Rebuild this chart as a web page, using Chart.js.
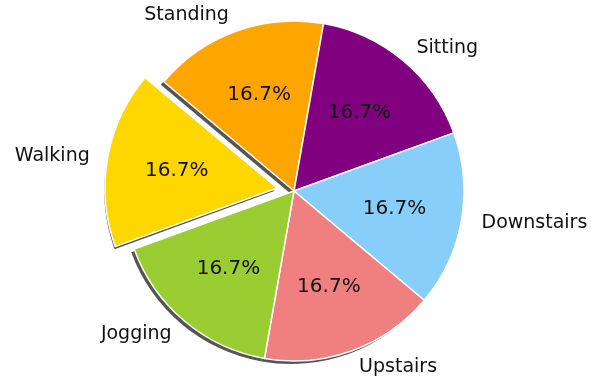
<!DOCTYPE html>
<html>
<head>
<meta charset="utf-8">
<title>Activity distribution</title>
<script src="https://cdn.jsdelivr.net/npm/chart.js@4/dist/chart.umd.min.js"></script>
<style>
  body { margin: 0; background: #fff; }
  canvas { display: block; }
</style>
</head>
<body>
<canvas id="activityPie" width="591" height="380"></canvas>
<script>
// activities, listed clockwise starting from the upper-left wedge
const activities = ['Standing', 'Sitting', 'Downstairs', 'Upstairs', 'Jogging', 'Walking'];
const counts = [1, 1, 1, 1, 1, 1];
const colors = ['#FFA500', '#800080', '#87CEFA', '#F08080', '#9ACD32', '#FFD700'];
const explode = [0, 0, 0, 0, 0, 0.1];

const RADIUS = 170;
// label ring sits a little wider than tall
const LABEL_DIST_X = 1.12;
const LABEL_DIST_Y = 1.1;
const PCT_DIST = 0.6;
const LABEL_FONT = '19px "DejaVu Sans"';
const PCT_FONT = '20px "DejaVu Sans"';

// a wedge's outward push in pixels (Chart.js moves an arc by offset / 4)
const pushOf = arc => (arc.options.offset || 0) / 4;

const wedgeShadow = {
  id: 'wedgeShadow',
  beforeDatasetsDraw(chart) {
    const ctx = chart.ctx;
    ctx.save();
    ctx.fillStyle = 'rgba(55,55,55,0.85)';
    chart.getDatasetMeta(0).data.forEach(arc => {
      const mid = (arc.startAngle + arc.endAngle) / 2;
      const cx = arc.x + Math.cos(mid) * pushOf(arc) - 3;
      const cy = arc.y + Math.sin(mid) * pushOf(arc) + 3;
      ctx.beginPath();
      ctx.moveTo(cx, cy);
      ctx.arc(cx, cy, arc.outerRadius, arc.startAngle, arc.endAngle);
      ctx.closePath();
      ctx.fill();
    });
    ctx.restore();
  }
};

const wedgeLabels = {
  id: 'wedgeLabels',
  afterDatasetsDraw(chart) {
    const ctx = chart.ctx;
    const total = counts.reduce((a, b) => a + b, 0);
    ctx.save();
    ctx.fillStyle = '#111';
    ctx.textBaseline = 'middle';
    chart.getDatasetMeta(0).data.forEach((arc, i) => {
      const mid = (arc.startAngle + arc.endAngle) / 2;
      const cos = Math.cos(mid), sin = Math.sin(mid);
      const cx = arc.x + cos * pushOf(arc);
      const cy = arc.y + sin * pushOf(arc);
      const r = arc.outerRadius;

      ctx.font = LABEL_FONT;
      ctx.textAlign = cos < 0 ? 'right' : 'left';
      ctx.fillText(activities[i], cx + cos * r * LABEL_DIST_X, cy + sin * r * LABEL_DIST_Y);

      ctx.font = PCT_FONT;
      ctx.textAlign = 'center';
      const pct = (counts[i] / total * 100).toFixed(1) + '%';
      ctx.fillText(pct, cx + cos * r * PCT_DIST, cy + sin * r * PCT_DIST);
    });
    ctx.restore();
  }
};

new Chart(document.getElementById('activityPie'), {
  type: 'pie',
  data: {
    labels: activities,
    datasets: [{
      data: counts,
      backgroundColor: colors,
      borderColor: '#fff',
      borderWidth: 1.5,
      offset: explode.map(e => e * RADIUS * 4)
    }]
  },
  options: {
    responsive: false,
    animation: false,
    rotation: -50,
    radius: RADIUS,
    layout: { padding: { left: 0, right: 3, top: 2, bottom: 0 } },
    plugins: {
      legend: { display: false },
      tooltip: { enabled: false }
    }
  },
  plugins: [wedgeShadow, wedgeLabels]
});
</script>
</body>
</html>
